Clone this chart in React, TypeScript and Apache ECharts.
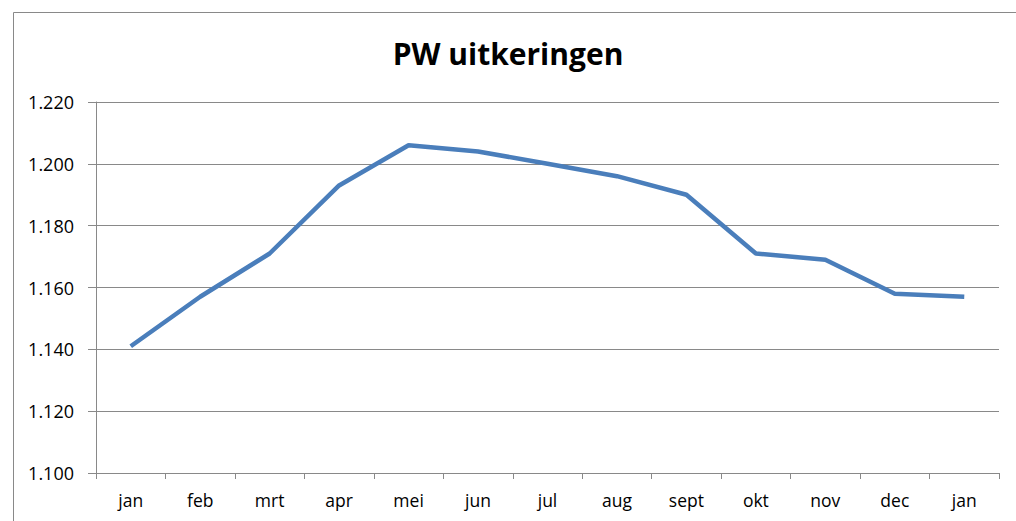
import React, { useEffect, useRef } from "react";
import * as echarts from "echarts";

const categories = ["jan", "feb", "mrt", "apr", "mei", "jun", "jul", "aug", "sept", "okt", "nov", "dec", "jan"];
const values = [1141, 1157, 1171, 1193, 1206, 1204, 1200, 1196, 1190, 1171, 1169, 1158, 1157];
const titleText = "PW uitkeringen";
const yMin = 1100;
const yMax = 1220;
const yStep = 20;

function fmt(v: number): string {
  const t = Math.floor(v / 1000);
  const r = Math.round(v % 1000);
  return t > 0 ? t + "." + String(r).padStart(3, "0") : String(r);
}

export default function App() {
  const ref = useRef<HTMLDivElement>(null);
  useEffect(() => {
    if (!ref.current) return;
    const chart = echarts.init(ref.current, undefined, { renderer: "svg" });
    const gray = "#898989";
    chart.setOption({
      animation: false,
      backgroundColor: "#ffffff",
      title: {
        text: titleText,
        left: "center",
        top: 33,
        textStyle: { fontFamily: "Open Sans", fontWeight: "bold", fontSize: 30, color: "#000" },
      },
      graphic: [
        {
          type: "rect",
          shape: { x: 13.5, y: 12.5, width: 1010, height: 520 },
          style: { fill: "none", stroke: gray, lineWidth: 1 },
          silent: true,
        },
      ],
      grid: { left: 96, top: 102, right: 17, bottom: 48, containLabel: false },
      xAxis: {
        type: "category",
        data: categories,
        boundaryGap: true,
        axisLine: { lineStyle: { color: gray, width: 1 } },
        axisTick: { show: true, length: 6, lineStyle: { color: gray } },
        axisLabel: { fontFamily: "Open Sans", fontSize: 17.5, color: "#000", margin: 18 },
        splitLine: { show: false },
      },
      yAxis: {
        type: "value",
        min: yMin,
        max: yMax,
        interval: yStep,
        axisLine: { show: true, lineStyle: { color: gray, width: 1 } },
        axisTick: { show: true, length: 8, lineStyle: { color: gray } },
        axisLabel: {
          fontFamily: "Open Sans",
          fontSize: 18,
          color: "#000",
          margin: 22,
          formatter: (v: number) => fmt(v),
        },
        splitLine: { show: true, lineStyle: { color: gray, width: 1 } },
      },
      series: [
        {
          type: "line",
          data: values,
          symbol: "none",
          lineStyle: { color: "#4a7ebb", width: 4.5 },
          itemStyle: { color: "#4a7ebb" },
        },
      ],
    });
    return () => chart.dispose();
  }, []);
  return (
    <div
      ref={ref}
      style={{ position: "absolute", left: 0, top: 0, width: 1016, height: 521 }}
    />
  );
}
